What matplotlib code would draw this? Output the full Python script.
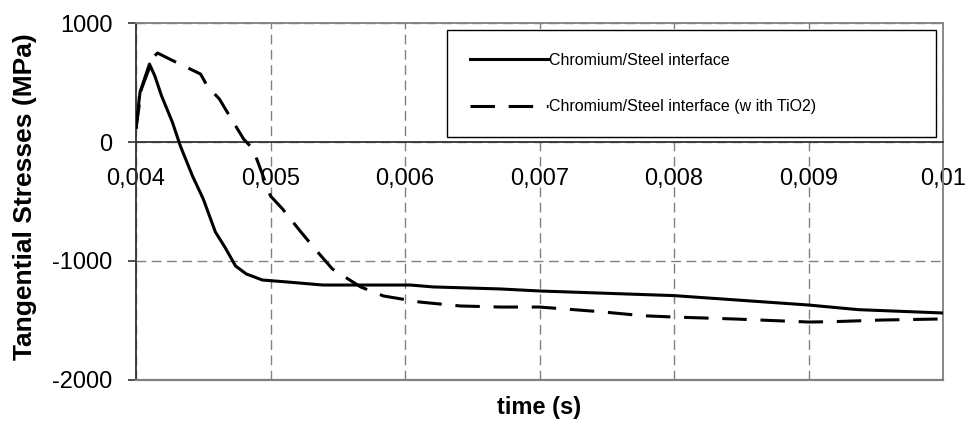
"""
Tangential stresses at the chromium/steel interface, with and without TiO2.
"""

import matplotlib
matplotlib.use("Agg")
import matplotlib.pyplot as plt

plt.rcParams["font.family"] = ["Liberation Sans", "DejaVu Sans"]

# time (s) and stress (MPa)
time_plain = [0.0040, 0.00403, 0.00410, 0.00414, 0.00419, 0.00427, 0.00433,
              0.00442, 0.00450, 0.00459, 0.00466, 0.00474, 0.00482, 0.00494,
              0.00512, 0.00539, 0.00604, 0.00621, 0.00671, 0.0070, 0.0080,
              0.0090, 0.00937, 0.0100]
stress_plain = [126, 420, 655, 555, 387, 168, -34,
                -286, -479, -756, -882, -1042, -1109, -1160,
                -1176, -1202, -1202, -1218, -1235, -1252, -1291,
                -1370, -1409, -1437]

time_tio2 = [0.0040, 0.00404, 0.00413, 0.00416, 0.00425, 0.00448, 0.00453,
             0.00462, 0.00470, 0.00480, 0.00487, 0.00500, 0.00509, 0.00522,
             0.00535, 0.00546, 0.00567, 0.00584, 0.00611, 0.00641, 0.00671,
             0.0070, 0.00745, 0.00777, 0.0080, 0.00844, 0.00894, 0.0090,
             0.00918, 0.00955, 0.0100]
stress_tio2 = [110, 445, 714, 748, 697, 571, 470,
               361, 210, 25, -59, -454, -563, -748,
               -924, -1067, -1218, -1294, -1345, -1378, -1387,
               -1387, -1426, -1460, -1471, -1487, -1510, -1513,
               -1510, -1496, -1487]

labels = ["Chromium/Steel interface", "Chromium/Steel interface (w ith TiO2)"]

x_ticks = [0.004, 0.005, 0.006, 0.007, 0.008, 0.009, 0.010]
x_tick_labels = ["0,004", "0,005", "0,006", "0,007", "0,008", "0,009", "0,01"]
y_ticks = [-2000, -1000, 0, 1000]
y_tick_labels = ["-2000", "-1000", "0", "1000"]


def main():
    fig = plt.figure(figsize=(9.66, 4.40), dpi=100)
    ax = fig.add_axes([0.1408, 0.1364, 0.8354, 0.8113])

    ax.plot(time_plain, stress_plain, color="black", lw=2.2,
            label=labels[0], zorder=4)
    ax.plot(time_tio2, stress_tio2, color="black", lw=2.2,
            linestyle=(0, (8, 4.5)), label=labels[1], zorder=4)

    ax.set_xlim(0.004, 0.010)
    ax.set_ylim(-2000, 1000)
    ax.set_xticks(x_ticks)
    ax.set_xticklabels(x_tick_labels)
    ax.set_yticks(y_ticks)
    ax.set_yticklabels(y_tick_labels)

    ax.grid(True, color="#808080", lw=1, linestyle=(0, (7, 4)), zorder=1)

    # x axis sits on the zero line, plot area keeps a gray border
    ax.spines["bottom"].set_position(("data", 0))
    ax.spines["bottom"].set_color("#333333")
    ax.spines["left"].set_color("#333333")
    ax.spines["top"].set_color("#808080")
    ax.spines["right"].set_color("#808080")
    for s in ax.spines.values():
        s.set_linewidth(1.3)
    ax.axhline(-2000, color="#808080", lw=1.6, clip_on=False, zorder=3)

    ax.tick_params(axis="x", length=0, pad=19, labelsize=17)
    ax.tick_params(axis="y", length=6, width=1.2, color="#333333",
                   pad=11, labelsize=17)

    ax.set_xlabel("time (s)", fontsize=17, fontweight="bold")
    ax.xaxis.set_label_coords(0.5, -0.045)
    ax.set_ylabel("Tangential Stresses (MPa)", fontsize=19, fontweight="bold")
    ax.yaxis.set_label_coords(-0.123, 0.515)

    leg = ax.legend(loc="upper left", bbox_to_anchor=(0.385, 0.68, 0.606, 0.30),
                    mode="expand", fontsize=11.5, handlelength=4.9,
                    handletextpad=0.1, labelspacing=1.95, borderpad=1.43,
                    borderaxespad=0, fancybox=False, framealpha=1,
                    edgecolor="black")
    leg.get_frame().set_linewidth(1.0)

    fig.savefig("out.png", dpi=100)


if __name__ == "__main__":
    main()
